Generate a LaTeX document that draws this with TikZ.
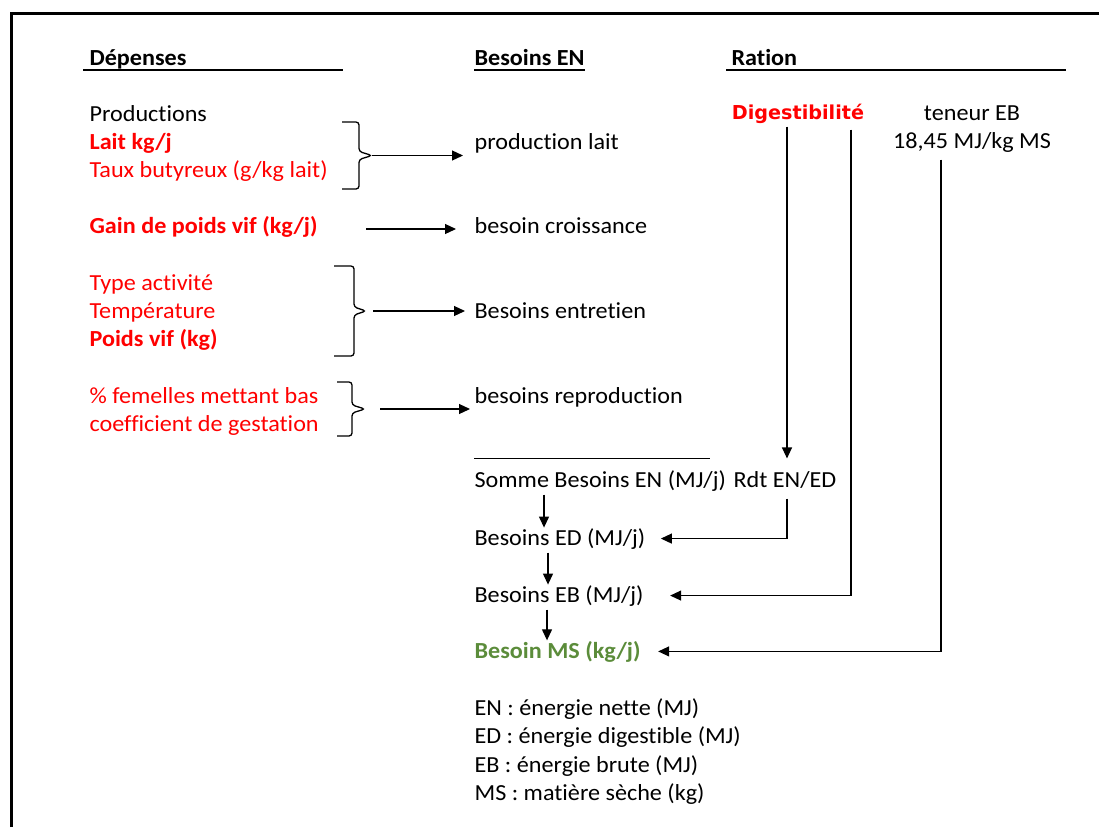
\documentclass[tikz,border=0pt]{standalone}
\usepackage{fontspec}
\setmainfont{Carlito}[FakeStretch=1.05, Ligatures=NoCommon]
\newfontfamily\digfont{DejaVu Sans}
\usetikzlibrary{arrows.meta, calc}
\definecolor{cred}{HTML}{FF0000}
\definecolor{cgreen}{HTML}{5B8C3A}
\tikzset{
  every picture/.style={x=1pt, y=-1pt, line width=1.2pt},
  txt/.style={anchor=base west, inner sep=0pt},
  head/.style={txt, font=\fontsize{23}{28}\selectfont\bfseries},
  redtxt/.style={txt, text=cred},
  redbold/.style={txt, text=cred, font=\fontsize{23}{28}\selectfont\bfseries},
  rule/.style={line width=1.8pt},
  brace/.style={line width=1.3pt, rounded corners=3pt},
  arr/.style={-{Triangle[length=11pt, width=10pt]}, line width=1.2pt},
}

\begin{document}
\begin{tikzpicture}[
    every node/.append style={font=\fontsize{23}{28}\selectfont},
  ]
  \newcommand{\rbr}[6]{%
    \draw[brace] (#2,#5) -- (#3,#5) -- (#3,{(#5+#6)/2-4}) -- (#4,{(#5+#6)/2})
      -- (#3,{(#5+#6)/2+4}) -- (#3,#6) -- (#2,#6);
    \coordinate (#1) at (#4,{(#5+#6)/2});}
  \useasboundingbox (0,0) rectangle (1099,827);
  \draw[line width=3pt] (11,827) -- (11,13) -- (1099,13);

  % headings
  \node[head] (dep) at (89,65)  {Dépenses};
  \node[head] (ben) at (474,65) {Besoins EN};
  \node[head] (rat) at (731,65) {Ration};
  \draw[rule] ($(dep.base west)+(-6,5)$) -- ++(260,0);
  \draw[rule] ($(ben.base west)+(0,5)$) -- (ben.base east |- 0,70);
  \draw[rule] ($(rat.base west)+(-5,5)$) -- ++(340,0);

  % depenses
  \node[txt]     (prod)  at (89,121) {Productions};
  \node[redbold] (lait)  at (89,149) {Lait kg/j};
  \node[redtxt]  (taux)  at (89,177) {Taux butyreux (g/kg lait)};
  \node[redbold] (gain)  at (89,233) {Gain de poids vif (kg/j)};
  \node[redtxt]  (type)  at (89,290) {Type activité};
  \node[redtxt]  (temp)  at (89,318) {Température};
  \node[redbold] (poids) at (89,346) {Poids vif (kg)};
  \node[redtxt]  (fem)   at (89,403) {\% femelles mettant bas};
  \node[redtxt]  (coef)  at (89,431) {coefficient de gestation};

  % besoins EN
  \node[txt] (plait) at (474,149) {production lait};
  \node[txt] (croi)  at (474,233) {besoin croissance};
  \node[txt] (entr)  at (474,318) {Besoins entretien};
  \node[txt] (repr)  at (474,403) {besoins reproduction};
  \node[txt] (somme) at (474,487) {Somme Besoins EN (MJ/j)};
  \node[txt] (rdt)   at (733,487) {Rdt EN/ED};
  \node[txt] (ed)    at (474,545) {Besoins ED (MJ/j)};
  \node[txt] (eb)    at (474,602) {Besoins EB (MJ/j)};
  \node[txt, text=cgreen, font=\fontsize{23}{28}\selectfont\bfseries] (ms) at (474,658) {Besoin MS (kg/j)};
  \draw[line width=0.9pt] ($(somme.north west)+(0,-11)$) -- ++(236,0);

  % ration
  \node[anchor=base, inner sep=0pt, text=cred, font=\digfont\fontsize{19.2}{22}\selectfont\bfseries] (dig) at (798,119) {Digestibilité};
  \node[anchor=base, inner sep=0pt] (ten) at (972,120) {teneur EB};
  \node[anchor=base, inner sep=0pt] (mj)  at (972,148) {18,45 MJ/kg MS};

  % abbreviations
  \node[txt] (len) at (474,715) {EN : énergie nette (MJ)};
  \node[txt] (led) at (474,743) {ED : énergie digestible (MJ)};
  \node[txt] (leb) at (474,772) {EB : énergie brute (MJ)};
  \node[txt] (lms) at (474,800) {MS : matière sèche (kg)};

  % braces
  \rbr{b1}{342}{359}{372}{122}{189}
  \rbr{b2}{334}{354}{366}{266}{356}
  \rbr{b3}{337}{352}{365}{382}{436}
  \coordinate (g1) at (366,229);

  \draw[arr, shorten >=11pt] (b1) -- (b1 -| plait.west);
  \draw[arr, shorten >=18pt] (g1) -- (g1 -| croi.west);
  \draw[arr, shorten <=7pt, shorten >=9pt] (b2) -- (b2 -| entr.west);
  \draw[arr, shorten <=15pt, shorten >=4pt] (b3) -- (b3 -| repr.west);

  \draw[arr, shorten <=3pt] ([xshift=70pt]somme.south west) -- ([xshift=70pt]ed.north west);
  \draw[arr, shorten <=3pt] ([xshift=74pt]ed.south west) -- ([xshift=74pt]eb.north west);
  \draw[arr, shorten <=3pt] ([xshift=73pt]eb.south west) -- ([xshift=73pt]ms.north west);

  \draw[arr, shorten <=3pt, shorten >=12pt] ([xshift=-11pt]dig.south) -- ([xshift=-11pt]dig.south |- rdt.north);
  \draw[arr, shorten <=10pt, shorten >=15pt] ([xshift=2pt]rdt.south) |- (ed.east);
  \draw[arr, shorten <=6pt, shorten >=26pt] ([xshift=53pt]dig.south) |- (eb.east);
  \draw[arr, shorten <=7pt, shorten >=17pt] ([xshift=-31pt]mj.south) |- (ms.east);
\end{tikzpicture}
\end{document}
